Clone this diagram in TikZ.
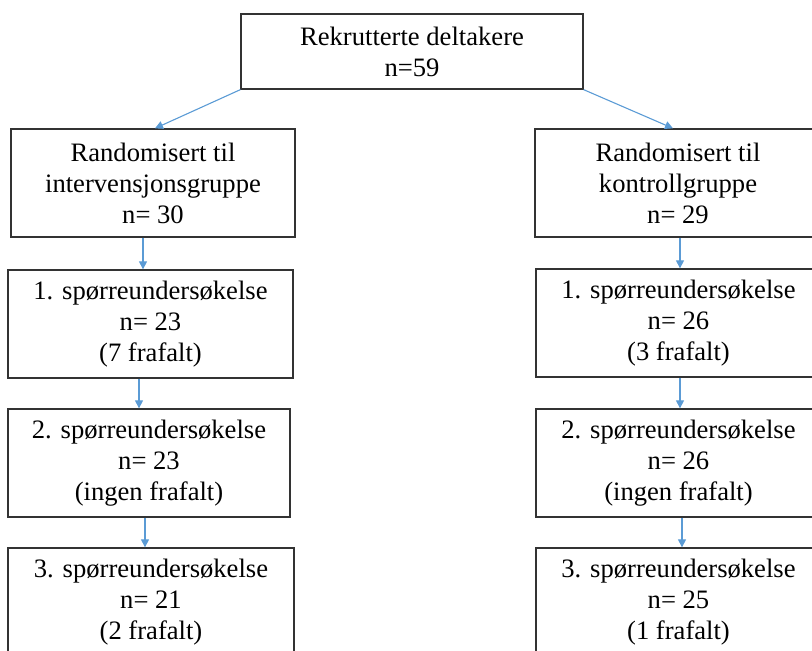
\documentclass[tikz,border=0pt]{standalone}
\usepackage{fontspec}
\setmainfont{Liberation Serif}
\usetikzlibrary{arrows.meta}
\definecolor{arrowblue}{HTML}{5B9BD5}
\begin{document}
\begin{tikzpicture}[x=1pt,y=-1pt,
  box/.style={draw=black!80, line width=1.3pt, rectangle, inner sep=0pt, align=center,
    minimum height=108pt, font=\fontsize{26.6}{31}\selectfont},
  arr/.style={draw=arrowblue, line width=1.1pt, -{Triangle[length=8pt,width=8pt]}}]
\useasboundingbox (0,0) rectangle (812,651);
\clip (0,0) rectangle (812,651);
\node[box, minimum width=342pt, minimum height=75pt] (top) at (412,51.5) {Rekrutterte deltakere\\n=59};
\node[box, minimum width=284pt] (L1) at (153,183) {Randomisert til\\intervensjonsgruppe\\n= 30};
\node[box, minimum width=286pt] (R1) at (678,183) {Randomisert til\\kontrollgruppe\\n= 29};
\node[box, minimum width=285pt] (L2) at (150.5,324) {1. spørreundersøkelse\\n= 23\\(7 frafalt)};
\node[box, minimum width=285pt] (R2) at (678.5,323) {1. spørreundersøkelse\\n= 26\\(3 frafalt)};
\node[box, minimum width=282pt] (L3) at (149,463) {2. spørreundersøkelse\\n= 23\\(ingen frafalt)};
\node[box, minimum width=285pt] (R3) at (678.5,463) {2. spørreundersøkelse\\n= 26\\(ingen frafalt)};
\node[box, minimum width=286pt] (L4) at (151,602) {3. spørreundersøkelse\\n= 21\\(2 frafalt)};
\node[box, minimum width=285pt] (R4) at (678.5,602) {3. spørreundersøkelse\\n= 25\\(1 frafalt)};
\draw[arr] (top.south west) -- ([xshift=2pt]L1.north);
\draw[arr] (top.south east) -- ([xshift=-5pt]R1.north);
\draw[arr] ([xshift=-10pt]L1.south) -- ([xshift=-7.5pt]L2.north);
\draw[arr] ([xshift=-11.5pt]L2.south) -- ([xshift=-10pt]L3.north);
\draw[arr] ([xshift=-4pt]L3.south) -- ([xshift=-6pt]L4.north);
\draw[arr] ([xshift=2pt]R1.south) -- ([xshift=1.5pt]R2.north);
\draw[arr] ([xshift=1.5pt]R2.south) -- ([xshift=1.5pt]R3.north);
\draw[arr] ([xshift=3.5pt]R3.south) -- ([xshift=3.5pt]R4.north);
\end{tikzpicture}
\end{document}
